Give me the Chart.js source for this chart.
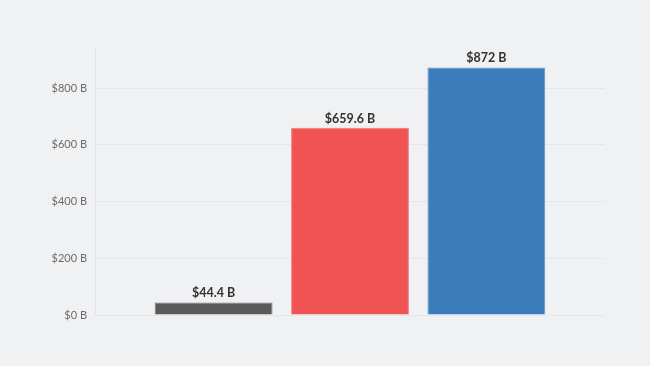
<!DOCTYPE html>
<html>
<head>
<meta charset="utf-8">
<script src="https://cdn.jsdelivr.net/npm/chart.js@4.4.1/dist/chart.umd.min.js"></script>
<style>
  html, body { margin: 0; padding: 0; background: #f0f1f3; }
  #wrap { width: 650px; height: 366px; }
</style>
</head>
<body>
<div id="wrap"><canvas id="chart" width="650" height="366"></canvas></div>
<script>
// data
const categories = ['A', 'B', 'C'];
const values = [44.4, 659.6, 872];
const valueLabels = ['$44.4 B', '$659.6 B', '$872 B'];
const barColors = ['#5a5a5a', '#f05353', '#3b7dba'];
const borderColors = ['#7a7a7a', '#f47878', '#5a93c6'];
const yTicks = [0, 200, 400, 600, 800];

const FONT = 'Lato, "Open Sans", sans-serif';

// value labels above bars
const valueLabelPlugin = {
    id: 'valueLabels',
    afterDatasetsDraw(chart) {
        const ctx = chart.ctx;
        const meta = chart.getDatasetMeta(0);
        ctx.save();
        ctx.font = 'bold 12.5px ' + FONT;
        ctx.fillStyle = '#333333';
        ctx.textAlign = 'center';
        ctx.textBaseline = 'bottom';
        meta.data.forEach((bar, i) => {
            ctx.fillText(valueLabels[i], bar.x, bar.y - 3);
        });
        ctx.restore();
    }
};

new Chart(document.getElementById('chart'), {
    type: 'bar',
    data: {
        datasets: [{
            data: values.map((v, i) => ({ x: i, y: v })),
            backgroundColor: barColors,
            borderColor: borderColors,
            borderWidth: 1,
            barPercentage: 0.864,
            categoryPercentage: 1
        }]
    },
    options: {
        responsive: false,
        animation: false,
        layout: { padding: { top: 48, bottom: 51, left: 0, right: 45 } },
        plugins: {
            legend: { display: false },
            tooltip: { enabled: false }
        },
        scales: {
            x: {
                type: 'linear',
                display: false,
                offset: false,
                min: -0.87,
                max: 2.87,
                afterBuildTicks: s => { s.ticks = categories.map((c, i) => ({ value: i })); }
            },
            y: {
                min: 0,
                max: 941,
                afterFit: s => { s.width = 95; },
                afterBuildTicks: s => { s.ticks = yTicks.map(v => ({ value: v })); },
                grid: { color: '#e5e6e9', drawTicks: false },
                border: { display: true, color: '#e5e6e9' },
                ticks: {
                    padding: 8,
                    color: '#6b6b6b',
                    font: { family: FONT, size: 11 },
                    callback: v => '$' + v + ' B'
                }
            }
        }
    },
    plugins: [valueLabelPlugin]
});
</script>
</body>
</html>
